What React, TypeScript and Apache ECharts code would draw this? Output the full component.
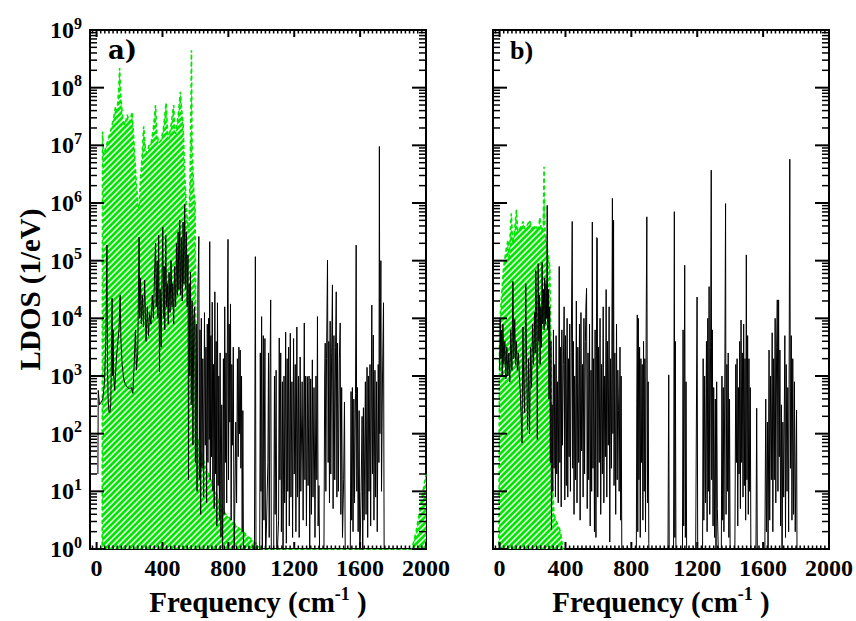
import React, { useEffect, useRef } from "react";
import * as echarts from "echarts";

// ---- data: [frequency (cm^-1), log10(LDOS in 1/eV)] ----
const A_GREEN: [number, number][] = [
  [34, -0.3], [36, 7.24], [42, 6.83], [55, 6.95], [70, 7.1], [90, 7.3], [105, 7.5], [115, 7.67],
  [125, 7.6], [135, 8.0], [140, 8.34], [148, 7.8], [160, 7.45], [172, 7.35], [186, 7.53], [200, 7.4],
  [216, 7.58], [228, 7.0], [240, 6.4], [252, 5.95], [258, 5.9], [266, 6.4], [276, 6.8], [286, 7.33],
  [296, 6.95], [308, 6.86], [318, 7.0], [332, 7.05], [345, 7.3], [358, 7.7], [366, 7.2], [378, 7.04],
  [392, 7.09], [406, 7.3], [422, 7.74], [430, 7.3], [437, 7.1], [450, 7.3], [468, 7.7], [475, 7.25],
  [479, 7.2], [495, 7.5], [509, 7.93], [517, 7.6], [525, 7.4], [535, 6.5], [548, 5.8], [560, 5.5],
  [568, 6.5], [574, 8.0], [576, 8.65], [580, 7.0], [590, 6.2], [598, 6.0], [600, 5.0], [603, 3.0],
  [607, 2.0], [640, 1.6], [680, 1.3], [720, 1.0], [780, 0.62], [850, 0.4], [943, 0.16], [1000, 0.0],
  [1015, -0.3], [1905, -0.3], [1915, 0.0], [1940, 0.3], [1970, 0.8], [2000, 1.3],
];

const A_LINE: [number, number][] = [
  [8, 1.3], [10, 2.75], [18, 2.5], [28, 2.55], [38, 2.6], [48, 2.9], [56, 3.6], [63, 5.27], [66, 3.2],
  [70, 2.6], [75, 2.38], [80, 2.36], [86, 2.5], [90, 3.3], [94, 4.35], [97, 3.0], [100, 3.8], [104, 3.0],
  [110, 2.75], [118, 3.2], [126, 3.5], [136, 3.8], [143, 4.4], [148, 3.6], [155, 3.2], [165, 2.95],
  [175, 2.85], [188, 2.8], [200, 2.78], [212, 2.8], [220, 2.7], [228, 3.2], [236, 3.8], [242, 3.1],
  [250, 3.4], [258, 5.41], [262, 4.0], [267, 4.7], [272, 3.9], [278, 4.4], [285, 3.85], [292, 4.66],
  [300, 3.6], [308, 4.2], [315, 3.7], [322, 4.1], [330, 3.9], [338, 4.4], [345, 4.0], [352, 4.8],
  [358, 5.3], [362, 4.2], [368, 5.0], [372, 4.0], [377, 5.44], [382, 3.07], [386, 4.5], [392, 3.5],
  [397, 4.7], [402, 5.58], [406, 4.0], [410, 4.9], [414, 3.8], [420, 5.44], [425, 4.2], [430, 4.6],
  [435, 3.9], [440, 4.8], [446, 4.1], [452, 5.0], [458, 4.2], [463, 4.6], [468, 3.9], [474, 4.9],
  [480, 4.2], [485, 5.3], [490, 4.4], [495, 5.5], [500, 4.5], [505, 5.7], [510, 4.4], [515, 5.4],
  [520, 4.3], [525, 5.67], [530, 4.6], [535, 5.98], [540, 4.5], [545, 5.5], [550, 4.2], [555, 5.1],
  [558, 1.2], [562, 4.6], [566, 3.0], [570, 4.8], [575, 2.5], [580, 4.3], [585, 1.8], [590, 4.0],
  [595, 4.2], [600, 1.5], [605, 3.9], [610, 1.0], [615, 4.5], [621, 5.42], [624, 1.2], [628, 3.8],
  [632, 0.6], [636, 4.0], [640, 1.4], [645, 3.3], [650, 0.9], [655, 4.1], [660, 1.8], [664, 3.5],
  [668, 0.8], [672, 3.9], [676, 1.5], [680, 4.0], [684, 1.9], [687, 5.33], [690, 1.2], [694, 3.7],
  [698, 1.6], [702, 4.28], [706, 1.0], [710, 3.2], [714, 0.7], [718, 4.46], [722, 1.3], [726, 3.6],
  [730, 0.4], [734, 4.27], [738, 1.1], [742, 3.0], [746, 0.5], [750, 3.4], [755, 0.2], [760, 2.5],
  [765, -0.3], [770, 3.3], [774, 0.6], [778, 4.2], [782, 1.5], [786, 3.4], [790, 0.8], [795, 4.3],
  [798, 5.37], [801, 1.2], [805, 3.9], [809, 2.2], [813, 4.25], [817, 0.5], [821, 3.2], [825, 1.8],
  [830, 3.5], [835, -0.3], [845, 2.2], [850, 0.8], [855, 3.3], [860, 1.6], [864, 3.5], [868, 2.0],
  [872, 3.45], [876, 1.4], [880, 3.0], [884, 0.3], [888, 2.4], [892, -0.3],
  [958, -0.3], [964, 5.07], [968, -0.3], [990, -0.3], [994, 3.4], [998, 1.0], [1002, 4.03], [1006, -0.3],
  [1012, 3.7], [1016, 0.5], [1022, 3.65], [1026, -0.3], [1040, 1.5], [1044, 3.4], [1048, 0.2],
  [1053, 3.0], [1057, 4.32], [1061, -0.3], [1075, -0.3], [1080, 3.0], [1084, 0.6], [1090, 3.1],
  [1094, -0.3], [1105, 0.5], [1109, 3.66], [1113, 1.2], [1118, 3.4], [1122, 0.3], [1128, 2.9],
  [1132, -0.2], [1138, 3.0], [1142, 0.8], [1148, 3.76], [1152, 0.1], [1157, 3.3], [1161, 1.0],
  [1166, 3.5], [1170, 0.4], [1176, 3.74], [1180, 0.9], [1186, 2.9], [1190, 0.2], [1196, 3.65],
  [1200, 1.3], [1206, 3.2], [1210, 0.3], [1216, 3.85], [1220, 0.9], [1226, 3.0], [1230, 0.2],
  [1236, 3.33], [1240, 1.0], [1248, 2.9], [1254, 0.5], [1261, 3.92], [1265, 1.2], [1270, 3.0],
  [1274, 0.4], [1280, 2.99], [1284, 1.1], [1290, 3.0], [1294, 0.0], [1300, 2.95], [1304, 0.6],
  [1310, 3.28], [1314, 0.9], [1320, 2.8], [1326, 0.2], [1332, 3.0], [1337, 1.2], [1341, 4.03],
  [1345, 0.4], [1350, 1.1], [1355, -0.3], [1380, -0.3], [1385, 3.0], [1388, 3.57], [1392, 1.0],
  [1396, 3.3], [1402, 5.01], [1406, 1.5], [1410, 3.6], [1414, 0.8], [1418, 3.95], [1422, 1.3],
  [1427, 3.4], [1432, 4.58], [1436, 0.7], [1441, 3.7], [1446, 1.2], [1451, 3.5], [1455, 4.46],
  [1459, 0.9], [1463, 3.57], [1468, 1.0], [1474, 3.3], [1479, 3.92], [1483, 0.6], [1488, 2.8],
  [1493, 0.2], [1500, 1.2], [1505, 2.55], [1510, -0.3], [1540, -0.3], [1545, 2.73], [1549, 0.5],
  [1553, 2.8], [1557, 0.3], [1562, 2.6], [1566, 0.8], [1572, 2.7], [1576, 5.27], [1580, 1.0],
  [1584, 2.8], [1588, 0.3], [1594, 2.4], [1598, -0.3], [1606, 1.0], [1612, 2.3], [1616, -0.2],
  [1620, 2.45], [1624, 0.5], [1632, 2.9], [1636, 0.6], [1642, 3.15], [1646, 0.2], [1650, 3.0],
  [1654, 1.0], [1660, 3.2], [1664, 0.4], [1671, 4.23], [1675, 1.3], [1680, 3.71], [1684, 0.5],
  [1690, 3.1], [1694, 0.9], [1700, 2.9], [1704, 0.3], [1710, 3.2], [1714, 1.5], [1717, 6.98],
  [1720, 2.0], [1726, 5.0], [1730, 1.0], [1736, 3.0], [1742, 4.27], [1746, -0.3], [2000, -0.3],
];

const B_GREEN: [number, number][] = [
  [-5, -0.3], [0, 3.9], [10, 4.3], [25, 4.9], [40, 5.2], [51, 5.36], [58, 5.0], [65, 5.5], [71, 5.82],
  [80, 5.3], [90, 5.5], [102, 5.88], [110, 5.5], [122, 5.55], [132, 5.6], [142, 5.68], [152, 5.55],
  [165, 5.6], [183, 5.7], [195, 5.55], [210, 5.6], [224, 5.59], [235, 5.5], [244, 5.75], [255, 5.5],
  [265, 5.6], [270, 6.63], [276, 5.5], [290, 5.2], [305, 4.9], [312, 3.5], [316, 1.5], [330, 0.6],
  [350, 0.45], [370, 0.3], [385, 0.0], [392, -0.3],
];

const B_LINE: [number, number][] = [
  [0, 3.1], [4, 4.0], [8, 3.3], [12, 3.8], [16, 3.0], [20, 3.9], [26, 3.2], [32, 3.6], [38, 2.95],
  [44, 3.5], [50, 3.0], [56, 3.4], [62, 2.9], [68, 3.8], [75, 3.1], [81, 4.64], [86, 3.3], [92, 3.98],
  [97, 3.2], [102, 3.6], [108, 3.1], [114, 3.4], [120, 3.0], [126, 2.7], [131, 2.3], [136, 1.84],
  [142, 3.85], [147, 2.8], [152, 2.36], [159, 4.6], [164, 3.2], [170, 2.07], [176, 3.3], [182, 2.0],
  [188, 3.5], [194, 2.8], [200, 3.9], [206, 3.2], [212, 4.1], [216, 3.4], [220, 4.83], [225, 4.0],
  [229, 1.9], [234, 4.95], [238, 3.6], [242, 4.4], [246, 3.2], [250, 4.2], [254, 3.5], [258, 4.97],
  [262, 3.9], [266, 4.5], [270, 3.8], [274, 4.7], [278, 3.9], [282, 4.6], [286, 4.0], [289, 5.96],
  [292, 3.8], [296, 4.5], [300, 2.6], [304, 4.2], [308, 1.5], [312, 3.6], [315, 0.33], [319, 2.5],
  [323, 1.0], [327, 3.8], [331, 1.4], [335, 3.2], [339, 0.9], [343, 3.7], [347, 1.3], [351, 2.9],
  [356, 0.8], [362, 4.9], [366, 1.5], [370, 3.5], [374, 0.73], [378, 3.8], [382, 1.8], [387, 3.2],
  [392, 4.2], [396, 0.85], [400, 3.7], [405, 1.1], [410, 4.0], [414, 0.9], [418, 3.3], [422, 1.6],
  [426, 3.9], [430, 1.0], [435, 3.4], [441, 5.68], [444, 1.4], [448, 3.6], [452, 0.6], [456, 3.0],
  [461, 1.2], [466, 4.3], [470, 0.8], [475, 3.5], [480, 1.5], [485, 3.9], [489, 0.5], [494, 4.1],
  [498, 1.7], [503, 3.2], [507, 0.9], [512, 4.0], [516, 1.3], [521, 3.6], [524, 4.2], [528, 4.52],
  [532, 0.7], [537, 3.4], [541, 1.2], [546, 3.9], [550, 0.4], [555, 3.1], [559, 1.0], [563, 5.67],
  [567, 1.4], [571, 3.3], [576, 0.3], [580, 3.8], [585, 0.2], [590, 5.4], [593, 5.39], [596, 0.9],
  [600, 3.5], [605, 1.5], [610, 4.0], [614, 0.6], [619, 3.2], [624, 1.3], [629, 4.2], [633, 0.8],
  [638, 3.0], [642, 1.6], [647, 4.5], [651, 0.9], [655, 3.6], [660, 1.8], [665, 4.2], [669, 0.12],
  [674, 3.3], [679, 1.4], [685, 6.08], [688, 2.0], [692, 5.7], [695, 1.1], [700, 3.4], [705, 0.6],
  [710, 3.9], [714, 1.2], [718, 3.1], [722, 2.4], [726, 1.0], [731, 3.5], [735, 0.5], [738, 3.0],
  [742, 0.0], [745, -0.3],
  [830, -0.3], [833, 2.5], [836, 4.06], [839, 0.3], [842, 4.0], [846, 1.2], [850, 3.5], [854, 0.2],
  [858, 3.3], [862, 1.5], [866, 3.2], [870, 0.5], [874, 3.6], [878, 1.0], [882, 3.3], [886, 0.3],
  [890, 3.9], [894, 5.76], [898, 0.8], [902, 2.9], [906, 0.1], [910, -0.3],
  [1022, -0.3], [1027, 3.02], [1030, -0.3], [1056, -0.3], [1061, 5.85], [1064, 0.2], [1067, 3.6],
  [1071, -0.3], [1110, -0.3], [1114, 3.8], [1118, 0.4], [1124, 4.92], [1128, 0.2], [1132, 2.9],
  [1136, -0.3], [1190, -0.3], [1199, 4.37], [1203, -0.3], [1232, -0.3], [1236, 3.3], [1240, 0.5],
  [1245, 3.0], [1250, 0.8], [1256, 3.6], [1260, 0.3], [1264, 4.0], [1268, 1.0], [1272, 4.55],
  [1276, 0.6], [1281, 3.5], [1285, 6.57], [1288, 1.2], [1292, 3.8], [1296, 0.4], [1300, 2.8],
  [1305, 0.2], [1310, 2.6], [1314, -0.3], [1318, 2.9], [1322, 0.7], [1330, -0.3], [1346, -0.3],
  [1350, 3.0], [1354, 0.5], [1358, 2.8], [1362, 0.3], [1368, 3.3], [1372, 5.99], [1375, 0.6],
  [1380, 3.2], [1384, 1.0], [1388, 3.4], [1392, 0.2], [1396, 2.6], [1400, -0.3],
  [1428, -0.3], [1434, 3.2], [1438, 1.5], [1442, 3.3], [1446, 0.4], [1450, 2.8], [1454, 1.3],
  [1458, 3.6], [1462, 0.7], [1466, 3.97], [1470, 1.5], [1474, 3.4], [1478, 0.9], [1482, 3.9],
  [1486, 1.1], [1490, 3.3], [1494, 0.5], [1498, 5.1], [1502, 1.2], [1506, 3.7], [1510, 0.6],
  [1514, 3.3], [1518, 1.0], [1522, 2.8], [1526, -0.3], [1556, -0.3], [1561, 2.44], [1565, -0.3],
  [1610, -0.3], [1616, 2.6], [1620, 0.3], [1626, 2.2], [1630, -0.2], [1636, 3.45], [1640, 0.5],
  [1645, 3.0], [1650, 1.2], [1655, 3.75], [1659, 0.3], [1664, 3.3], [1668, 1.2], [1673, 4.0],
  [1677, 0.8], [1682, 3.5], [1686, 4.32], [1690, 1.0], [1694, 4.32], [1698, 1.6], [1702, 3.45],
  [1706, 0.4], [1711, 2.5], [1715, -0.3], [1720, 2.2], [1725, 0.9], [1732, 3.7], [1736, 0.2],
  [1740, 3.2], [1745, 1.0], [1750, 2.8], [1755, 0.3], [1762, 6.76], [1766, 1.4], [1771, 3.7],
  [1775, 0.5], [1780, 3.3], [1785, 0.6], [1790, 2.9], [1795, 0.3], [1803, 2.41], [1806, -0.3],
  [2000, -0.3],
];

// ---- axes ----
const X_MIN = -40;
const X_MAX = 2000;
const X_LABELS = [0, 400, 800, 1200, 1600, 2000];
const Y_EXPONENTS = [0, 1, 2, 3, 4, 5, 6, 7, 8, 9];
const X_MINOR_STEP = 25;
const Y_MINOR_MULTIPLIERS = [2, 3, 4, 5, 6, 7, 8, 9];

const FONT = "Liberation Serif";
const GREEN = "#00e600";

const toValues = (pts: [number, number][]) => pts.map(([f, e]) => [f, Math.pow(10, e)]);

function buildTicks(): number[][] {
  const out: number[][] = [];
  for (const v of X_LABELS) out.push([v, 1, 0]);
  for (let v = -25; v < X_MAX; v += X_MINOR_STEP) {
    if (v % 400 !== 0) out.push([v, 1, 1]);
  }
  for (const e of Y_EXPONENTS) out.push([X_MIN, Math.pow(10, e), 2]);
  for (const e of Y_EXPONENTS.slice(0, -1)) {
    for (const m of Y_MINOR_MULTIPLIERS) out.push([X_MIN, m * Math.pow(10, e), 3]);
  }
  return out;
}

function makeHatch(): HTMLCanvasElement {
  const c = document.createElement("canvas");
  c.width = 6;
  c.height = 6;
  const ctx = c.getContext("2d")!;
  ctx.fillStyle = "#ffffff";
  ctx.fillRect(0, 0, 6, 6);
  ctx.strokeStyle = GREEN;
  ctx.lineWidth = 2.8;
  ctx.beginPath();
  for (const o of [-6, 0, 6]) {
    ctx.moveTo(o - 1, 7);
    ctx.lineTo(o + 7, -1);
  }
  ctx.stroke();
  return c;
}

export default function App() {
  const ref = useRef<HTMLDivElement>(null);

  useEffect(() => {
    if (!ref.current) return;
    const chart = echarts.init(ref.current, undefined, { renderer: "svg" });
    const hatch = makeHatch();
    const ticks = buildTicks();

    const grids = [
      { left: 90, top: 30, width: 336, height: 519 },
      { left: 493, top: 30, width: 336, height: 519 },
    ];

    const richTitle = {
      t: { fontFamily: FONT, fontWeight: "bold", fontSize: 29, color: "#000" },
      s: { fontFamily: FONT, fontWeight: "bold", fontSize: 18, color: "#000", padding: [0, 0, 16, 0] },
    };

    const xAxes = grids.map((_, i) => ({
      type: "value",
      gridIndex: i,
      min: X_MIN,
      max: X_MAX,
      axisLine: { show: false },
      axisTick: { show: false },
      splitLine: { show: false },
      axisLabel: {
        customValues: X_LABELS,
        formatter: (v: number) => String(v),
        fontFamily: FONT,
        fontWeight: "bold",
        fontSize: 24,
        color: "#000",
        margin: 7,
      },
      name: "{t|Frequency (cm}{s|-1}{t| )}",
      nameLocation: "middle",
      nameGap: 36,
      nameTextStyle: { fontFamily: FONT, fontWeight: "bold", rich: richTitle },
    }));

    const yAxes = grids.map((_, i) => ({
      type: "log",
      logBase: 10,
      gridIndex: i,
      min: 1,
      max: 1e9,
      axisLine: { show: false },
      axisTick: { show: false },
      splitLine: { show: false },
      minorTick: { show: false },
      axisLabel: {
        show: i === 0,
        customValues: Y_EXPONENTS.map((e) => Math.pow(10, e)),
        formatter: (v: number) => `{b|10}{s|${Math.round(Math.log10(v))}}`,
        margin: 8,
        fontFamily: FONT,
        fontWeight: "bold",
        rich: {
          b: { fontFamily: FONT, fontWeight: "bold", fontSize: 24, color: "#000" },
          s: { fontFamily: FONT, fontWeight: "bold", fontSize: 16, color: "#000", padding: [0, 0, 14, 0] },
        },
      },
      name: i === 0 ? "LDOS (1/eV)" : "",
      nameLocation: "middle",
      nameRotate: 90,
      nameGap: 46,
      nameTextStyle: { fontFamily: FONT, fontWeight: "bold", fontSize: 29, color: "#000" },
    }));

    const greenSeries = (data: [number, number][], i: number) => ({
      type: "line",
      xAxisIndex: i,
      yAxisIndex: i,
      data: toValues(data),
      symbol: "none",
      smooth: false,
      lineStyle: { color: GREEN, width: 1.6, type: [4, 3] },
      areaStyle: { origin: "start", opacity: 1, color: { image: hatch, repeat: "repeat" } },
      z: 1,
    });

    const blackSeries = (data: [number, number][], i: number) => ({
      type: "line",
      xAxisIndex: i,
      yAxisIndex: i,
      data: toValues(data),
      symbol: "none",
      smooth: false,
      lineStyle: { color: "#000", width: 1 },
      z: 2,
    });

    const tickSeries = (i: number) => ({
      type: "custom",
      xAxisIndex: i,
      yAxisIndex: i,
      silent: true,
      clip: false,
      z: 5,
      encode: { x: 0, y: 1 },
      data: ticks,
      renderItem: (_p: any, api: any) => {
        const kind = api.value(2);
        const x = api.value(0);
        const y = api.value(1);
        const st = { stroke: "#000", lineWidth: kind === 0 || kind === 2 ? 2 : 1.5 };
        if (kind < 2) {
          const len = kind === 0 ? 7 : 3.5;
          const b = api.coord([x, 1]);
          const t = api.coord([x, 1e9]);
          return {
            type: "group",
            children: [
              { type: "line", shape: { x1: b[0], y1: b[1], x2: b[0], y2: b[1] - len }, style: st },
              { type: "line", shape: { x1: t[0], y1: t[1], x2: t[0], y2: t[1] + len }, style: st },
            ],
          };
        }
        const len = kind === 2 ? 14 : 7;
        const l = api.coord([X_MIN, y]);
        const r = api.coord([X_MAX, y]);
        return {
          type: "group",
          children: [
            { type: "line", shape: { x1: l[0], y1: l[1], x2: l[0] + len, y2: l[1] }, style: st },
            { type: "line", shape: { x1: r[0], y1: r[1], x2: r[0] - len, y2: r[1] }, style: st },
          ],
        };
      },
    });

    chart.setOption({
      animation: false,
      backgroundColor: "#fff",
      textStyle: { fontFamily: FONT },
      grid: grids.map((g) => ({
        ...g,
        show: true,
        borderColor: "#000",
        borderWidth: 2,
        backgroundColor: "transparent",
        containLabel: false,
        outerBoundsMode: "none",
      })),
      xAxis: xAxes,
      yAxis: yAxes,
      graphic: [
        {
          type: "text", left: 108, top: 37,
          style: { text: "a)", fontFamily: "DejaVu Serif", fontWeight: "bold", fontSize: 26, fill: "#000" },
        },
        {
          type: "text", left: 510, top: 37,
          style: { text: "b)", fontFamily: "serif", fontWeight: "bold", fontSize: 26, fill: "#000" },
        },
      ],
      series: [
        greenSeries(A_GREEN, 0),
        blackSeries(A_LINE, 0),
        greenSeries(B_GREEN, 1),
        blackSeries(B_LINE, 1),
        tickSeries(0),
        tickSeries(1),
      ],
    });

    return () => chart.dispose();
  }, []);

  return (
    <div
      ref={ref}
      style={{ position: "fixed", left: 0, top: 0, width: 856, height: 621, background: "#fff" }}
    />
  );
}
